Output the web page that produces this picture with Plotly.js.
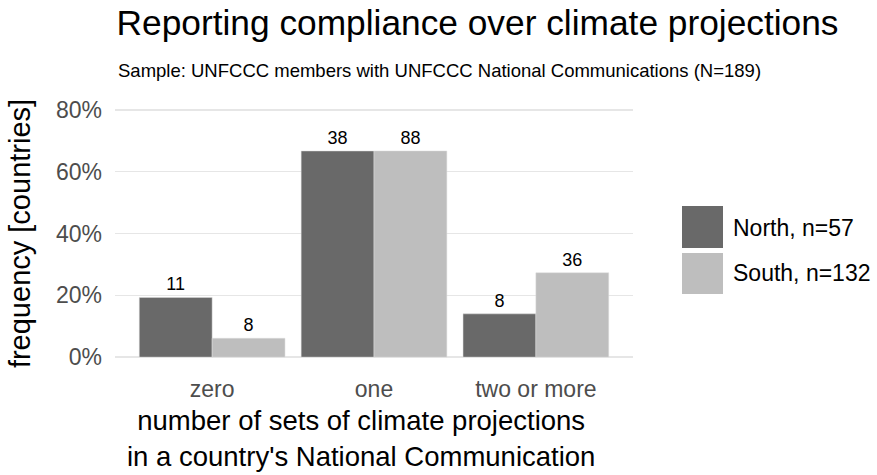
<!DOCTYPE html>
<html>
<head>
<meta charset="utf-8">
<script src="https://cdn.plot.ly/plotly-3.0.1.min.js"></script>
<style>html,body{margin:0;padding:0;background:#fff;}#chart{width:877px;height:475px;}</style>
</head>
<body>
<div id="chart"></div>
<script>
// ---- data ----
const categories = ["zero", "one", "two or more"];
const groups = ["North, n=57", "South, n=132"];
const northShare = [19.3, 66.7, 14.0];   // % of northern countries
const southShare = [6.1, 66.7, 27.3];    // % of southern countries
const northCount = [11, 38, 8];
const southCount = [8, 88, 36];
const yTickVals = [0, 20, 40, 60, 80];
const yTickText = ["0%", "20%", "40%", "60%", "80%"];

const FONT = "Liberation Sans, Arial, sans-serif";
const colors = ["#696969", "#bebebe"];

const traces = [
  {type: "bar", name: groups[0], x: categories, y: northShare, text: northCount.map(String),
   textposition: "outside", cliponaxis: false,
   textfont: {family: FONT, size: 18, color: "#000"},
   marker: {color: colors[0], line: {color: "#dcdcdc", width: 0.5}}, showlegend: false},
  {type: "bar", name: groups[1], x: categories, y: southShare, text: southCount.map(String),
   textposition: "outside", cliponaxis: false,
   textfont: {family: FONT, size: 18, color: "#000"},
   marker: {color: colors[1], line: {color: "#dcdcdc", width: 0.5}}, showlegend: false}
];

// custom legend (large keys like ggplot)
const L = 115, R = 633, T = 100, B = 367;
const px = v => (v - L) / (R - L);
const py = v => (B - v) / (B - T);
const shapes = [
  {type: "rect", xref: "paper", yref: "paper", x0: px(682), x1: px(723), y0: py(248), y1: py(206),
   fillcolor: colors[0], line: {width: 0}},
  {type: "rect", xref: "paper", yref: "paper", x0: px(682), x1: px(723), y0: py(294), y1: py(253),
   fillcolor: colors[1], line: {width: 0}}
];
const annotations = [
  {xref: "paper", yref: "paper", x: px(731), y: py(228), xanchor: "left", yanchor: "middle",
   text: groups[0], showarrow: false, font: {family: FONT, size: 23, color: "#000"}},
  {xref: "paper", yref: "paper", x: px(731), y: py(273), xanchor: "left", yanchor: "middle",
   text: groups[1], showarrow: false, font: {family: FONT, size: 23, color: "#000"}},
  {xref: "paper", yref: "paper", x: px(116), y: py(71), xanchor: "left", yanchor: "middle",
   text: "Sample: UNFCCC members with UNFCCC National Communications (N=189)", showarrow: false,
   font: {family: FONT, size: 18.5, color: "#000"}},
  {xref: "paper", yref: "paper", x: px(361), y: py(438), xanchor: "center", yanchor: "middle",
   text: "number of sets of climate projections<br>in a country's National Communication", showarrow: false,
   font: {family: FONT, size: 27.5, color: "#000"}}
];

const layout = {
  width: 877, height: 475,
  margin: {l: L, r: 877 - R, t: T, b: 475 - B, pad: 0},
  paper_bgcolor: "#fff", plot_bgcolor: "#fff",
  font: {family: FONT},
  title: {text: "Reporting compliance over climate projections", xref: "paper", x: 0.003, xanchor: "left",
          yref: "container", y: 0.952, yanchor: "middle", font: {family: FONT, size: 35.3, color: "#000"}},
  barmode: "group", bargap: 0.1, bargroupgap: 0,
  showlegend: false,
  xaxis: {range: [-0.6, 2.6], showgrid: false, zeroline: false, showline: false, ticks: "",
          tickfont: {family: FONT, size: 23, color: "#4d4d4d"}, ticklabelstandoff: 6, automargin: false},
  yaxis: {range: [-3.2, 83.2], tickvals: yTickVals, ticktext: yTickText, showgrid: true,
          gridcolor: "#e6e6e6", gridwidth: 1.6, zeroline: false, showline: false, ticks: "",
          tickfont: {family: FONT, size: 23, color: "#4d4d4d"}, ticklabelstandoff: 12, automargin: false,
          title: {text: "frequency [countries]", font: {family: FONT, size: 29, color: "#000"}, standoff: 16}},
  shapes: shapes,
  annotations: annotations
};

Plotly.newPlot("chart", traces, layout, {displayModeBar: false, staticPlot: true});
</script>
</body>
</html>
